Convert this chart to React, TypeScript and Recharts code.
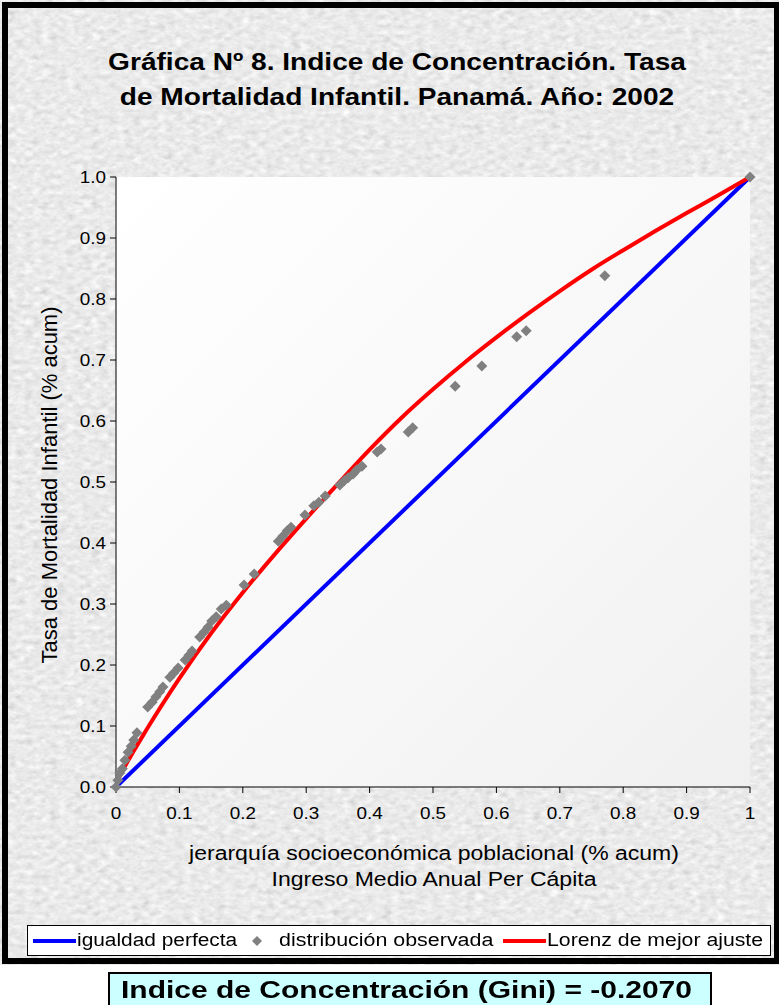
import { ComposedChart, Line, Scatter, XAxis, YAxis } from "recharts";

const FONT = "'Liberation Sans', Arial, sans-serif";
// the original picture is stretched sideways, so texts get a small horizontal scale
const SX = 1.18;

const xTicks = [0, 0.1, 0.2, 0.3, 0.4, 0.5, 0.6, 0.7, 0.8, 0.9, 1];
const yTicks = [0, 0.1, 0.2, 0.3, 0.4, 0.5, 0.6, 0.7, 0.8, 0.9, 1];

// igualdad perfecta
const equality = [
  { x: 0, y: 0 },
  { x: 1, y: 1 },
];

// Lorenz de mejor ajuste
const lorenzX = [0.003, 0.01, 0.05, 0.1, 0.15, 0.2, 0.25, 0.3, 0.35, 0.4, 0.45, 0.5, 0.55, 0.6, 0.65, 0.7, 0.75, 0.8, 0.85, 0.9, 0.95, 1];
const lorenzY = [0.012, 0.026, 0.097, 0.178, 0.252, 0.319, 0.381, 0.44, 0.497, 0.553, 0.605, 0.652, 0.696, 0.737, 0.776, 0.813, 0.848, 0.88, 0.911, 0.941, 0.97, 1];
const lorenz = lorenzX.map((x, i) => ({ x, y: lorenzY[i] }));

// distribucion observada
const obsX = [0, 0.003, 0.006, 0.01, 0.014, 0.019, 0.024, 0.028, 0.033, 0.05, 0.057, 0.063, 0.069, 0.074, 0.085, 0.091, 0.098, 0.109, 0.115, 0.12, 0.132, 0.139, 0.145, 0.151, 0.158, 0.166, 0.174, 0.202, 0.218, 0.256, 0.263, 0.27, 0.276, 0.298, 0.312, 0.32, 0.33, 0.353, 0.36, 0.366, 0.374, 0.38, 0.388, 0.412, 0.418, 0.461, 0.468, 0.535, 0.577, 0.632, 0.647, 0.771, 1];
const obsY = [0, 0.011, 0.023, 0.03, 0.044, 0.057, 0.067, 0.077, 0.089, 0.131, 0.139, 0.148, 0.156, 0.164, 0.18, 0.187, 0.195, 0.208, 0.216, 0.223, 0.246, 0.254, 0.262, 0.272, 0.279, 0.292, 0.298, 0.331, 0.349, 0.403, 0.411, 0.42, 0.426, 0.446, 0.461, 0.467, 0.477, 0.495, 0.502, 0.507, 0.513, 0.52, 0.526, 0.549, 0.554, 0.582, 0.589, 0.657, 0.69, 0.738, 0.748, 0.838, 1];
const observed = obsX.map((x, i) => ({ x, y: obsY[i] }));

const Diamond = (props: any) => {
  const { cx, cy } = props;
  if (cx == null || cy == null) return null;
  const r = 5.5;
  return <polygon points={`${cx},${cy - r} ${cx + r},${cy} ${cx},${cy + r} ${cx - r},${cy}`} fill="#808080" />;
};

const XTick = (props: any) => {
  const { x, y, payload } = props;
  return (
    <g transform={`translate(${x},${y})`}>
      <text transform={`scale(${SX},1)`} textAnchor="middle" dy={24} fontSize={16} fontFamily={FONT} fill="#000">
        {String(payload.value)}
      </text>
    </g>
  );
};

const YTick = (props: any) => {
  const { x, y, payload } = props;
  return (
    <g transform={`translate(${x - 2},${y})`}>
      <text transform={`scale(${SX},1)`} textAnchor="end" dy={6} fontSize={16} fontFamily={FONT} fill="#000">
        {Number(payload.value).toFixed(1)}
      </text>
    </g>
  );
};

const stretch = (s: number) => ({ display: "inline-block", transform: `scaleX(${s})`, transformOrigin: "left center" });

const App = () => {
  return (
    <div style={{ position: "absolute", left: 0, top: 0, width: 779, height: 1005, overflow: "hidden", fontFamily: FONT, background: "#fff" }}>
      {/* fondo marmoleado */}
      <svg width={779} height={965} style={{ position: "absolute", left: 0, top: 0 }}>
        <defs>
          <filter id="marble" x="0" y="0" width="100%" height="100%">
            <feTurbulence type="fractalNoise" baseFrequency="0.12 0.2" numOctaves={3} seed={7} />
            <feColorMatrix type="matrix" values="0.22 0.22 0.22 0 0.49  0.22 0.22 0.22 0 0.49  0.22 0.22 0.22 0 0.49  0 0 0 0 1" />
          </filter>
        </defs>
        <rect x={0} y={0} width={779} height={965} filter="url(#marble)" />
      </svg>
      <div style={{ position: "absolute", left: 2, top: 2, width: 766, height: 950, border: "6px solid #000" }} />

      <div
        style={{
          position: "absolute",
          left: 397,
          top: 44,
          transform: `translateX(-50%) scaleX(1.17)`,
          whiteSpace: "nowrap",
          textAlign: "center",
          fontWeight: "bold",
          fontSize: 24,
          lineHeight: "35px",
          color: "#000",
        }}
      >
        Gráfica Nº 8. Indice de Concentración. Tasa
        <br />
        de Mortalidad Infantil. Panamá. Año: 2002
      </div>

      <div
        style={{
          position: "absolute",
          left: 116,
          top: 177,
          width: 634,
          height: 610,
          background: "linear-gradient(135deg, #ffffff 0%, #f7f7f7 60%, #f0f0f0 100%)",
        }}
      />

      <div style={{ position: "absolute", left: 0, top: 0 }}>
        <ComposedChart width={779} height={960} margin={{ top: 177, right: 29, bottom: 143, left: 76 }}>
          <XAxis
            type="number"
            dataKey="x"
            domain={[0, 1]}
            ticks={xTicks}
            interval={0}
            height={30}
            stroke="#000"
            tickSize={6}
            tickMargin={2}
            tick={<XTick />}
          />
          <YAxis
            type="number"
            dataKey="y"
            domain={[0, 1]}
            ticks={yTicks}
            interval={0}
            width={40}
            stroke="#000"
            tickSize={6}
            tick={<YTick />}
          />
          <Line data={equality} dataKey="y" type="linear" stroke="#0000ff" strokeWidth={4} dot={false} isAnimationActive={false} />
          <Line data={lorenz} dataKey="y" type="monotone" stroke="#ff0000" strokeWidth={4} dot={false} isAnimationActive={false} />
          <Scatter data={observed} dataKey="y" shape={Diamond} isAnimationActive={false} />
        </ComposedChart>
      </div>

      <div
        style={{
          position: "absolute",
          left: 50,
          top: 485,
          transform: "translate(-50%, -50%) rotate(-90deg)",
          whiteSpace: "nowrap",
          fontSize: 22,
          color: "#000",
        }}
      >
        Tasa de Mortalidad Infantil (% acum)
      </div>

      <div
        style={{
          position: "absolute",
          left: 434,
          top: 840,
          transform: `translateX(-50%) scaleX(${SX})`,
          textAlign: "center",
          fontSize: 19.5,
          lineHeight: "26px",
          color: "#000",
          whiteSpace: "nowrap",
        }}
      >
        jerarquía socioeconómica poblacional (% acum)
        <br />
        Ingreso Medio Anual Per Cápita
      </div>

      {/* leyenda */}
      <div
        style={{
          position: "absolute",
          left: 27,
          top: 925,
          width: 742,
          height: 29,
          border: "1px solid #000",
          background: "#fff",
          fontSize: 18,
          lineHeight: "29px",
          color: "#000",
          whiteSpace: "nowrap",
        }}
      >
        <span style={{ position: "absolute", left: 5, top: 13, width: 43, height: 4, background: "#0000ff" }} />
        <span style={{ position: "absolute", left: 49, ...stretch(1.16) }}>igualdad perfecta</span>
        <svg width={12} height={12} style={{ position: "absolute", left: 223, top: 9 }}>
          <polygon points="6,1 11,6 6,11 1,6" fill="#808080" />
        </svg>
        <span style={{ position: "absolute", left: 251, ...stretch(1.19) }}>distribución observada</span>
        <span style={{ position: "absolute", left: 475, top: 13, width: 43, height: 4, background: "#ff0000" }} />
        <span style={{ position: "absolute", left: 519, ...stretch(1.18) }}>Lorenz de mejor ajuste</span>
      </div>

      <div
        style={{
          position: "absolute",
          left: 108,
          top: 972,
          width: 604,
          height: 38,
          border: "2px solid #000",
          background: "#ccffff",
          fontWeight: "bold",
          fontSize: 24,
          lineHeight: "31px",
          paddingLeft: 11,
          boxSizing: "border-box",
          color: "#000",
          whiteSpace: "nowrap",
        }}
      >
        <span style={stretch(1.25)}>Indice de Concentración (Gini) = -0.2070</span>
      </div>
    </div>
  );
};

export default App;
